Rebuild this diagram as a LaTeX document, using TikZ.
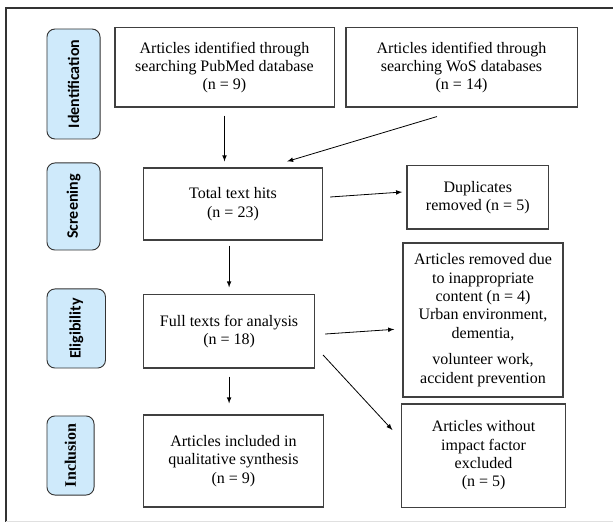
\documentclass[tikz,border=0pt]{standalone}
\usepackage{fontspec}
\setmainfont{Liberation Serif}
\newfontfamily\calfont{Carlito}
\usetikzlibrary{arrows,positioning}
\definecolor{pillblue}{HTML}{CFEAFB}
\tikzset{boxy/.style={draw=black!75,line width=0.8pt,rectangle,align=center,inner sep=2pt,font=\fontsize{12}{13.8}\selectfont},
    pilly/.style={draw=black!80,line width=0.7pt,fill=pillblue,rounded corners=6pt,rotate=90,inner sep=0pt,font=\calfont\bfseries\fontsize{12}{14}\selectfont},
    pillserif/.style={font=\bfseries\fontsize{12}{14}\selectfont},
    flowline/.style={->,>=latex,line width=0.6pt}}

\begin{document}
\begin{tikzpicture}[x=0.75pt,y=-0.75pt]

\useasboundingbox (0,0) rectangle (613,523);
\draw [black!80,line width=0.8pt] (613,8) -- (6,8) -- (6,522);
\draw [black!12,line width=0.8pt] (6,521.5) -- (613,521.5);

\node (pill 1) [pilly,minimum width=82.5pt,minimum height=39.8pt] at (73.5,84) {Identification};
\node (pill 2) [pilly,minimum width=65.3pt,minimum height=39.8pt] at (73.5,206.5) {Screening};
\node (pill 3) [pilly,minimum width=59.3pt,minimum height=43.9pt] at (76.25,328.5) {Eligibility};
\node (pill 4) [pilly,pillserif,minimum width=59.3pt,minimum height=35.3pt] at (70.5,455.5) {Inclusion};

\node (box 1) [boxy,minimum width=164.3pt,minimum height=59.3pt] at (224.5,67.5) {Articles identified through\\searching PubMed database\\(n = 9)};
\node (box 2) [boxy,minimum width=173.3pt,minimum height=59.3pt] at (461.5,67.5) {Articles identified through\\searching WoS databases\\(n = 14)};
\node (box 3) [boxy,minimum width=134.3pt,minimum height=54pt] at (233,204) {Total text hits\\(n = 23)};
\node (box 4) [boxy,minimum width=106.1pt,minimum height=47.3pt] at (477.75,197.5) {Duplicates\\removed (n = 5)};
\node (box 5) [boxy,minimum width=128.4pt,minimum height=54.8pt] at (229.1,331.5) {Full texts for analysis\\(n = 18)};
\node (box 6) [boxy,minimum width=120pt,minimum height=115.5pt] at (483,320) {Articles removed due\\to inappropriate\\content (n = 4)\\Urban environment,\\dementia,\\[6pt]volunteer work,\\accident prevention};
\node (box 7) [boxy,minimum width=134.9pt,minimum height=69pt] at (233.4,461) {Articles included in\\qualitative synthesis\\(n = 9)};
\node (box 8) [boxy,minimum width=123.2pt,minimum height=77.3pt] at (483.6,455.5) {Articles without\\impact factor\\excluded\\(n = 5)};

\draw [flowline,shorten <=6pt,shorten >=4.5pt] (box 1.south) -- (box 1.south |- box 3.north);
\draw [flowline] ([xshift=-18.4pt,yshift=-6.75pt]box 2.south) -- ([xshift=40.5pt,yshift=4.5pt]box 3.north);
\draw [flowline] ([xshift=5.3pt,yshift=5.25pt]box 3.east) -- ([xshift=-3.2pt,yshift=4.1pt]box 4.west);
\draw [flowline,shorten <=3.75pt,shorten >=5.25pt] (box 3.south -| box 5.north) -- (box 5.north);
\draw [flowline] ([xshift=7.35pt,yshift=-1.9pt]box 5.east) -- ([xshift=-6.15pt,yshift=-7pt]box 6.west);
\draw [flowline] ([xshift=5.85pt,yshift=-17.6pt]box 5.east) -- ([xshift=-6.4pt,yshift=19.1pt]box 8.west);
\draw [flowline,shorten <=6pt,shorten >=8.25pt] (box 5.south) -- (box 5.south |- box 7.north);

\end{tikzpicture}
\end{document}
